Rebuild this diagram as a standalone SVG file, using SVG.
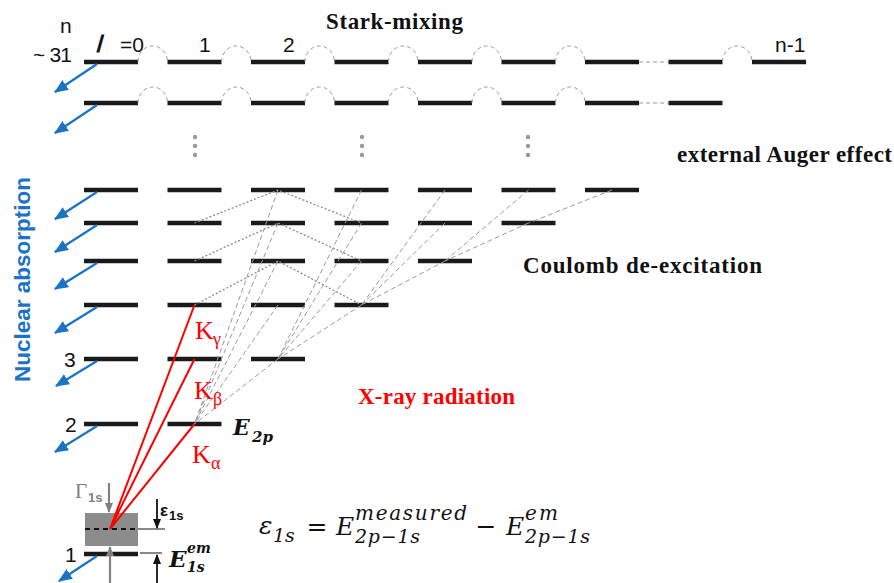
<svg xmlns="http://www.w3.org/2000/svg" width="894" height="583" viewBox="0 0 894 583">
<style>
.bar{stroke:#1a1a1a;stroke-width:4.5;fill:none}
.arc{stroke:#9a9a9a;stroke-width:1;fill:none;stroke-dasharray:4 3}
.dot{stroke:#8a8a8a;stroke-width:1.3;fill:none;stroke-dasharray:2 2}
.dash{stroke:#9a9a9a;stroke-width:1;fill:none;stroke-dasharray:5 3}
.red{stroke:#ff0000;stroke-width:2;fill:none}
.blue{stroke:#1a73c5;stroke-width:2.2;fill:none}
.sans{font-family:"Liberation Sans",Arial,sans-serif;font-size:21px;fill:#111}
.ttl{font-family:"Liberation Serif","Times New Roman",serif;font-weight:bold;font-size:23px;fill:#111}
.k{font-family:"Liberation Serif","Times New Roman",serif;font-size:26px;fill:#ff0000}
.ks{font-family:"Liberation Serif","Times New Roman",serif;font-size:18px;fill:#ff0000}
.eq{font-family:"DejaVu Serif",serif;font-style:italic;fill:#111}
.bi{font-family:"DejaVu Serif",serif;font-style:italic;font-weight:bold;fill:#111}
</style>
<defs>
<marker id="ab" viewBox="0 0 12 10" refX="11" refY="5" markerWidth="14" markerHeight="12" markerUnits="userSpaceOnUse" orient="auto"><path d="M0,0 L12,5 L0,10 z" fill="#1a73c5"/></marker>
<marker id="ak" viewBox="0 0 10 8" refX="9" refY="4" markerWidth="10" markerHeight="8" markerUnits="userSpaceOnUse" orient="auto"><path d="M0,0 L10,4 L0,8 z" fill="#111"/></marker>
<marker id="ag" viewBox="0 0 10 8" refX="9" refY="4" markerWidth="10" markerHeight="8" markerUnits="userSpaceOnUse" orient="auto"><path d="M0,0 L10,4 L0,8 z" fill="#808080"/></marker>
</defs>
<rect width="894" height="583" fill="#fff"/>

<!-- texts -->
<text class="ttl" x="326" y="29" textLength="137">Stark-mixing</text>
<text class="ttl" x="677" y="162" textLength="215">external Auger effect</text>
<text class="ttl" x="523" y="273" textLength="239">Coulomb de-excitation</text>
<text class="ttl" x="358" y="404" textLength="157" style="fill:#ff0000">X-ray radiation</text>
<text class="sans" x="60" y="33">n</text>
<text class="sans" x="33" y="62" textLength="39">~ 31</text>
<text class="sans" x="97" y="52" style="font-size:24px;stroke:#111;stroke-width:1">/</text>
<text class="sans" x="120" y="52">=0</text>
<text class="sans" x="199" y="52">1</text>
<text class="sans" x="283" y="52">2</text>
<text class="sans" x="775" y="52">n-1</text>
<text class="sans" x="64" y="367">3</text>
<text class="sans" x="65" y="432">2</text>
<text class="sans" x="65" y="562">1</text>
<text transform="translate(30,279.5) rotate(-90)" text-anchor="middle" style="font-family:'Liberation Sans',Arial,sans-serif;font-weight:bold;font-size:22.5px;fill:#1a73c5">Nuclear absorption</text>

<!-- levels -->
<g id="level-top1">
<path class="bar" d="M84,62h54M167.5,62h54M251,62h54M334.5,62h54M418,62h54M501.5,62h54M585,62h54M668.5,62h54M752,62h54"/>
</g>
<g id="level-top2">
<path class="bar" d="M84,103h54M167.5,103h54M251,103h54M334.5,103h54M418,103h54M501.5,103h54M585,103h54M668.5,103h54"/>
</g>
<g id="level-n7"><path class="bar" d="M84,190h54M167.5,190h54M251,190h54M334.5,190h54M418,190h54M501.5,190h54M585,190h54"/></g>
<g id="level-n6"><path class="bar" d="M84,223h54M167.5,223h54M251,223h54M334.5,223h54M418,223h54M501.5,223h54"/></g>
<g id="level-n5"><path class="bar" d="M84,261h54M167.5,261h54M251,261h54M334.5,261h54M418,261h54"/></g>
<g id="level-n4"><path class="bar" d="M84,305h54M167.5,305h54M251,305h54M334.5,305h54"/></g>
<g id="level-n3"><path class="bar" d="M84,359h54M167.5,359h54M251,359h54"/></g>
<g id="level-n2"><path class="bar" d="M84,424h54M167.5,424h54"/></g>

<g id="dots" fill="#999">
<circle cx="195" cy="137" r="2.2"/><circle cx="195" cy="146" r="2.2"/><circle cx="195" cy="155" r="2.2"/>
<circle cx="362" cy="137" r="2.2"/><circle cx="362" cy="146" r="2.2"/><circle cx="362" cy="155" r="2.2"/>
<circle cx="528" cy="137" r="2.2"/><circle cx="528" cy="146" r="2.2"/><circle cx="528" cy="155" r="2.2"/>
</g>

<!-- 1s level -->
<g id="level-1s">
<rect x="85" y="513" width="53" height="33" fill="#8c8c8c"/>
<path d="M85,529h53" stroke="#111" stroke-width="2" stroke-dasharray="5 4"/>
<path d="M138,529h27M140,553h22" stroke="#111" stroke-width="1"/>
<path class="bar" d="M84,554h54"/>
</g>

<g id="connectors">
<!-- stark arcs -->
<path class="arc" d="M138,62A14.75,16 0 0 1 167.5,62M221.5,62A14.75,16 0 0 1 251,62M305,62A14.75,16 0 0 1 334.5,62M388.5,62A14.75,16 0 0 1 418,62M472,62A14.75,16 0 0 1 501.5,62M555.5,62A14.75,16 0 0 1 585,62M722.5,62A14.75,16 0 0 1 752,62"/>
<path class="arc" d="M138,103A14.75,16 0 0 1 167.5,103M221.5,103A14.75,16 0 0 1 251,103M305,103A14.75,16 0 0 1 334.5,103M388.5,103A14.75,16 0 0 1 418,103M472,103A14.75,16 0 0 1 501.5,103M555.5,103A14.75,16 0 0 1 585,103"/>
<path class="arc" d="M639,62H668.5M639,103H668.5"/>
<!-- coulomb dotted -->
<path class="dot" d="M194.5,223L278,190L361.5,223M194.5,261L278,223L361.5,261M194.5,305L278,261L361.5,305"/>
<!-- dashed transitions -->
<path class="dash" d="M278,190L194.5,424M278,223L194.5,424M278,261L194.5,424M278,305L194.5,424M278,359L194.5,424
M361.5,190L278,359M361.5,223L278,359M361.5,261L278,359M361.5,305L278,359
M445,190L361.5,305M445,223L361.5,305M445,261L361.5,305
M528.5,190L445,261M528.5,223L445,261
M612,190L528.5,223"/>
<!-- X-ray -->
<path class="red" d="M194.5,305L110,529M194.5,359L110,529M194.5,424L110,529"/>
<!-- nuclear absorption arrows -->
<path class="blue" marker-end="url(#ab)" d="M97,64L55,92"/>
<path class="blue" marker-end="url(#ab)" d="M97,105L55,133"/>
<path class="blue" marker-end="url(#ab)" d="M97,192L55,219"/>
<path class="blue" marker-end="url(#ab)" d="M97,225L55,252"/>
<path class="blue" marker-end="url(#ab)" d="M97,263L55,289"/>
<path class="blue" marker-end="url(#ab)" d="M97,307L55,333"/>
<path class="blue" marker-end="url(#ab)" d="M97,361L56,386"/>
<path class="blue" marker-end="url(#ab)" d="M97,426L55,452"/>
<path class="blue" marker-end="url(#ab)" d="M97,556L59,581"/>
<!-- 1s arrows -->
<path d="M109,483V512" stroke="#808080" stroke-width="2.2" marker-end="url(#ag)"/>
<path d="M110,583V547" stroke="#808080" stroke-width="2.2" marker-end="url(#ag)"/>
<path d="M157,499V528" stroke="#111" stroke-width="1.8" marker-end="url(#ak)"/>
<path d="M157,583V555" stroke="#111" stroke-width="1.8" marker-end="url(#ak)"/>
</g>

<!-- K labels -->
<text class="k" x="195" y="339">K</text><text class="ks" x="213" y="345">γ</text>
<text class="k" x="194" y="399">K</text><text class="ks" x="213" y="405">β</text>
<text class="k" x="192" y="463">K</text><text class="ks" x="211" y="469">α</text>

<text class="bi" x="233" y="435" font-size="22">E</text><text class="bi" x="252" y="442" font-size="15">2p</text>

<text x="75" y="498" style="font-family:'Liberation Serif',serif;font-size:21px;fill:#808080">Γ</text>
<text x="88" y="502" style="font-family:'Liberation Sans',Arial,sans-serif;font-weight:bold;font-size:13px;fill:#808080">1s</text>
<text x="160" y="516" style="font-family:'Liberation Sans',Arial,sans-serif;font-weight:bold;font-size:17px;fill:#111">ε</text>
<text x="169" y="520" style="font-family:'Liberation Sans',Arial,sans-serif;font-weight:bold;font-size:13px;fill:#111">1s</text>

<text class="bi" x="169" y="567" font-size="23">E</text>
<text class="bi" x="187" y="553" font-size="14">em</text>
<text class="bi" x="187" y="572" font-size="14">1s</text>

<!-- equation -->
<text class="eq" x="259" y="534" font-size="25">ε</text>
<text class="eq" x="273" y="542" font-size="19">1s</text>
<text class="eq" x="317" y="535" font-size="25" text-anchor="middle" style="font-style:normal">=</text>
<text class="eq" x="336" y="535" font-size="25">E</text>
<text class="eq" x="355" y="520" font-size="20" textLength="112">measured</text>
<text class="eq" x="355" y="543" font-size="19" textLength="65">2p−1s</text>
<text class="eq" x="486" y="535" font-size="25" text-anchor="middle" style="font-style:normal">−</text>
<text class="eq" x="506" y="535" font-size="25">E</text>
<text class="eq" x="525" y="520" font-size="20" textLength="33">em</text>
<text class="eq" x="525" y="543" font-size="19" textLength="65">2p−1s</text>
</svg>
